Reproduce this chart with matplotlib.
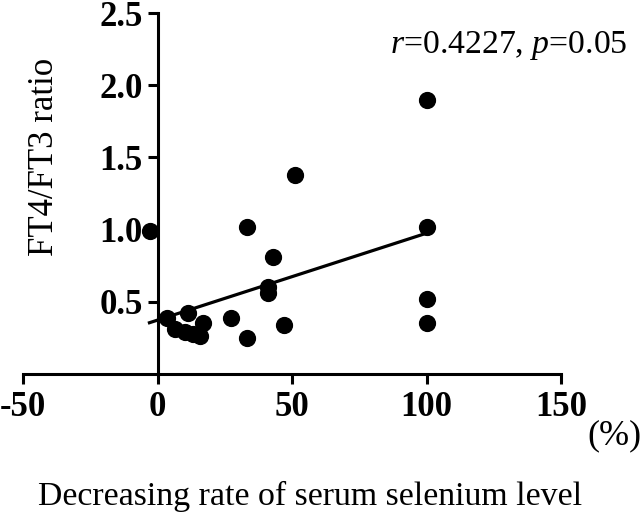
import matplotlib
matplotlib.use("Agg")
import matplotlib.pyplot as plt

plt.rcParams['font.family'] = ['Liberation Serif', 'DejaVu Serif']
plt.rcParams['mathtext.fontset'] = 'custom'
plt.rcParams['mathtext.it'] = 'Liberation Serif:italic'
plt.rcParams['mathtext.rm'] = 'Liberation Serif'

# decreasing rate of serum selenium (%) vs FT4/FT3 ratio
sel_rate = [-2.8, 33.3, 43, 41, 41, 3.5, 11.3, 6.5, 10.2, 13.2,
            15.8, 17, 27.3, 33.3, 47, 51, 100, 100, 100, 100]
ft_ratio = [0.99, 1.02, 0.81, 0.60, 0.56, 0.39, 0.42, 0.31, 0.29, 0.28,
            0.26, 0.35, 0.39, 0.25, 0.34, 1.38, 1.90, 1.02, 0.52, 0.35]

# regression line ends
fit_x = [-3, 100]
fit_y = [0.355, 0.975]

xticks = [-50, 0, 50, 100, 150]
yticks = [0.5, 1.0, 1.5, 2.0, 2.5]

fig = plt.figure(figsize=(6.43, 5.14), dpi=100)
ax = fig.add_axes([0.0358, 0.2724, 0.8367, 0.7023])

ax.scatter(sel_rate, ft_ratio, s=130, color='black', zorder=3, clip_on=False)
ax.plot(fit_x, fit_y, color='black', lw=2.3, zorder=2)

ax.set_xlim(-50, 150)
ax.set_ylim(0, 2.5)
ax.spines['left'].set_position(('data', 0))
ax.spines['top'].set_visible(False)
ax.spines['right'].set_visible(False)
for s in ['left', 'bottom']:
    ax.spines[s].set_linewidth(2.2)

ax.set_xticks(xticks)
ax.set_xticklabels([str(t) for t in xticks])
ax.set_yticks(yticks)
ax.set_yticklabels(['%.1f' % t for t in yticks])
ax.tick_params(axis='both', direction='out', length=7.5, width=2.2,
               labelsize=25)
ax.tick_params(axis='x', pad=5)
ax.tick_params(axis='y', pad=3)
for lab in ax.get_xticklabels() + ax.get_yticklabels():
    lab.set_fontweight('bold')

fig.text(45/643, 1-157/514, 'FT4/FT3 ratio', rotation=90, fontsize=25,
         ha='center', va='center')
fig.text(310/643, 1-496/514, 'Decreasing rate of serum selenium level',
         fontsize=24.4, ha='center', va='center')
fig.text(614/643, 1-436/514, '(%)', fontsize=26, ha='center', va='center')
fig.text(628/643, 1-53/514, r'$r$=0.4227, $p$=0.05', fontsize=24.3,
         ha='right', va='baseline')

fig.savefig('out.png', dpi=100)
